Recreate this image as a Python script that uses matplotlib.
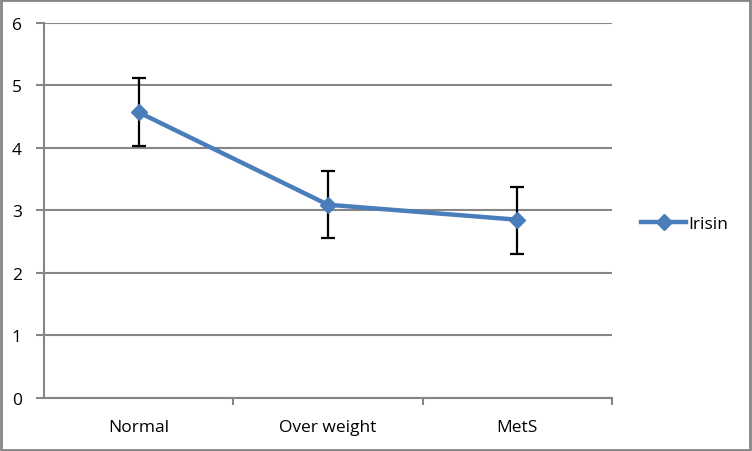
import matplotlib.pyplot as plt
from matplotlib.patches import Rectangle

# Werte
categories = ['Normal', 'Over weight', 'MetS']
irisin = [4.57, 3.09, 2.85]
err_upper = [5.12, 3.63, 3.37]
err_lower = [4.03, 2.55, 2.30]
y_ticks = [0, 1, 2, 3, 4, 5, 6]

plt.rcParams['font.family'] = ['Open Sans', 'DejaVu Sans']

grey = '#868686'
blue = '#4A7EBB'
fs = 12.5

fig = plt.figure(figsize=(7.52, 4.52), dpi=100)
ax = fig.add_axes([44 / 752, 1 - 398.7 / 452, (612 - 44) / 752, (398.7 - 24) / 452])

x = list(range(len(categories)))
yerr = [[v - lo for v, lo in zip(irisin, err_lower)],
        [hi - v for v, hi in zip(irisin, err_upper)]]

ax.errorbar(x, irisin, yerr=yerr, fmt='none', ecolor='black', elinewidth=1.6,
            capsize=5, capthick=1.6, zorder=3)
ax.plot(x, irisin, color=blue, linewidth=3.2, marker='D', markersize=8,
        label='Irisin', zorder=4)

ax.set_xlim(-0.5, len(categories) - 0.5)
ax.set_ylim(0, 6)
ax.set_yticks(y_ticks)
ax.set_xticks(x)
ax.set_xticklabels(categories, fontsize=fs)
ax.set_xticks([0.5, 1.5, 2.5], minor=True)
ax.tick_params(axis='x', which='major', length=0, pad=15)
ax.tick_params(axis='x', which='minor', length=5, width=1.5, color=grey, direction='out')
ax.tick_params(axis='y', length=6, width=1.5, color=grey, labelsize=fs, pad=10)

ax.grid(axis='y', color=grey, linewidth=1.5)
ax.set_axisbelow(True)
for side in ['top', 'right']:
    ax.spines[side].set_visible(False)
for side in ['left', 'bottom']:
    ax.spines[side].set_color(grey)
    ax.spines[side].set_linewidth(1.5)
    ax.spines[side].set_zorder(5)

ax.legend(loc='center left', bbox_to_anchor=(641 / 752, 1 - 225 / 452),
          bbox_transform=fig.transFigure, frameon=False, fontsize=fs,
          handlelength=2.6, handletextpad=0.15, borderpad=0, borderaxespad=0)

# Rahmen um die ganze Grafik
fig.patches.append(Rectangle((0.001, 0.002), 0.997, 0.995, transform=fig.transFigure,
                             fill=False, edgecolor=grey, linewidth=2))

plt.savefig('out.png', dpi=100)
plt.close()
